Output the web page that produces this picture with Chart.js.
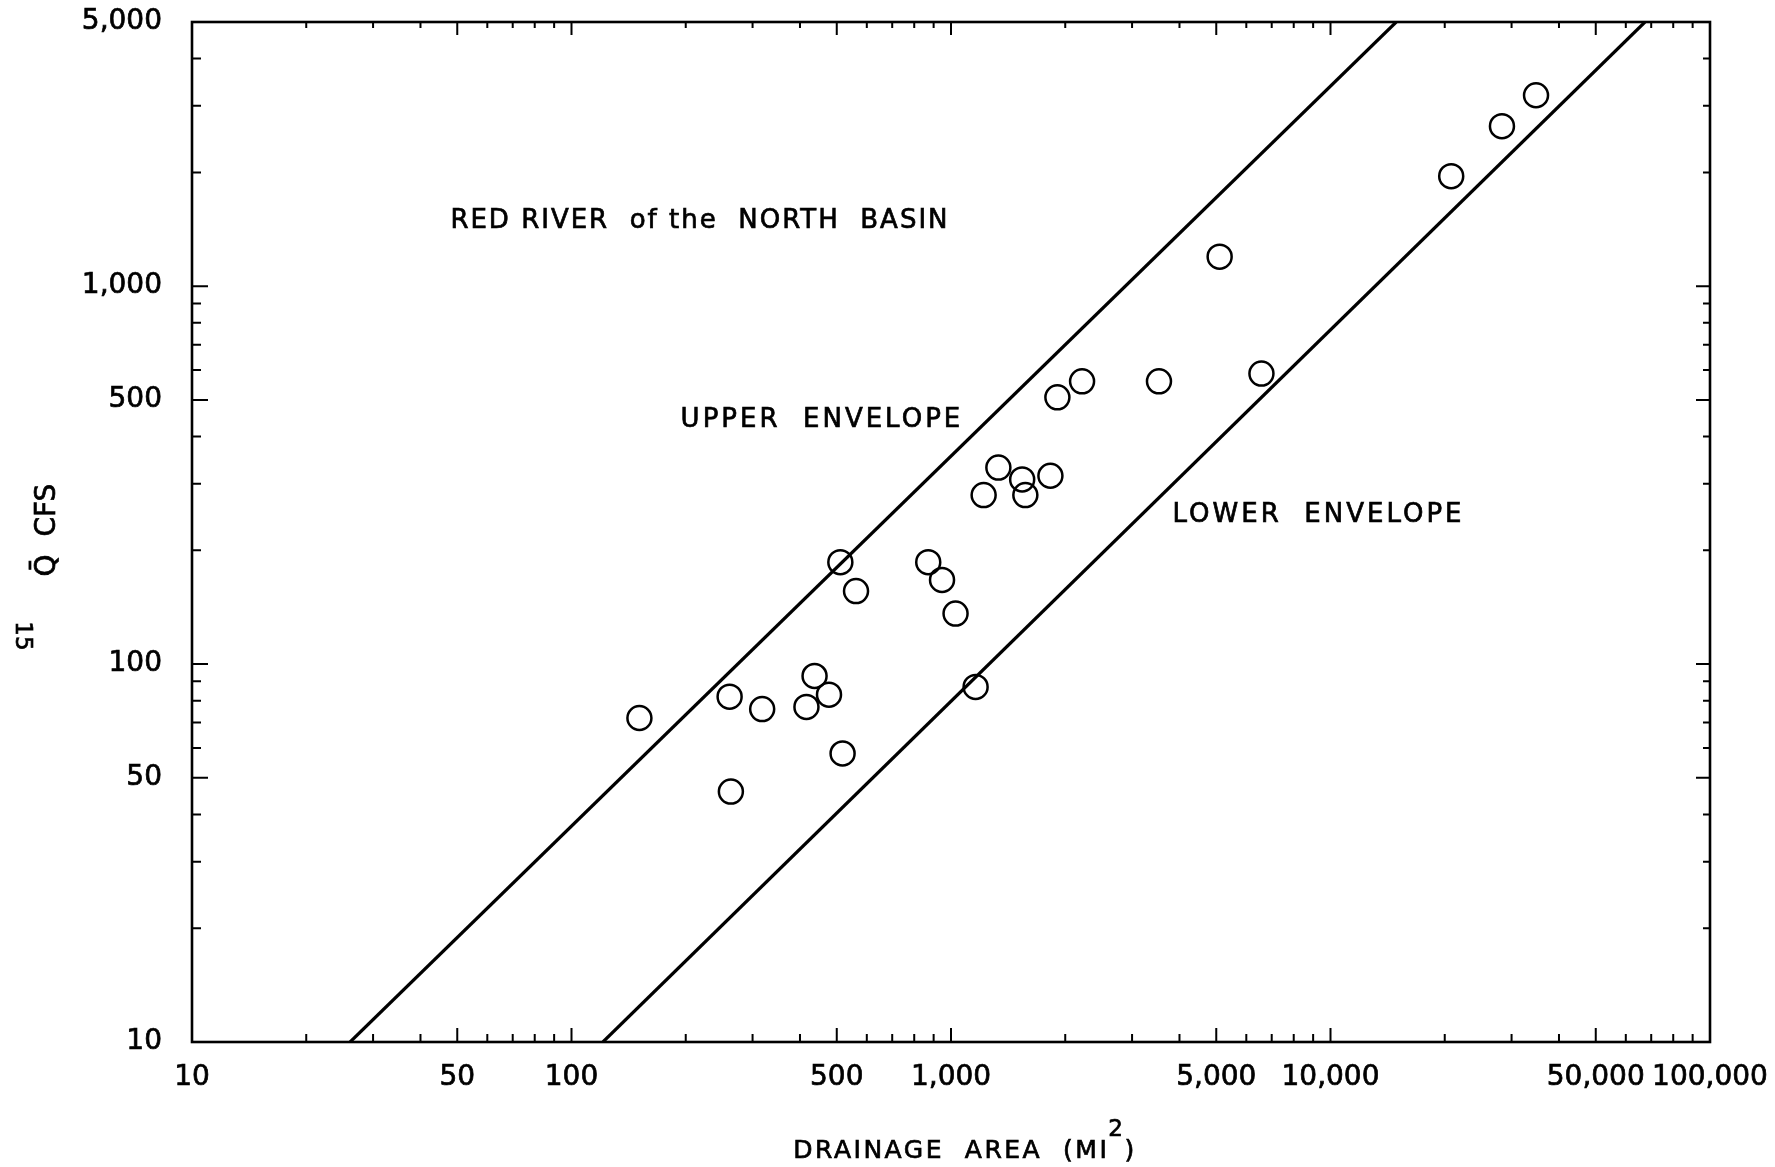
<!DOCTYPE html>
<html>
<head>
<meta charset="utf-8">
<script src="https://cdn.jsdelivr.net/npm/chart.js@4.4.1/dist/chart.umd.min.js"></script>
<style>
html,body{margin:0;padding:0;background:#fff;}
#wrap{width:1775px;height:1167px;}
</style>
</head>
<body>
<div id="wrap"><canvas id="grafica" width="1775" height="1167"></canvas></div>
<script>
// gaging stations, drainage area (mi2) and mean flow (cfs)
const AREAS = [151, 261, 263, 318, 416, 437, 477, 518, 511, 562, 871, 947, 1028, 1161,
               1219, 1333, 1540, 1570, 1828, 1907, 2215, 3532, 5104, 6577, 20800, 28300, 34800];
const FLOWS = [72, 82, 46, 76, 77, 93, 83, 58, 186, 156, 186, 167, 136, 87,
               280, 331, 308, 280, 315, 508, 560, 560, 1197, 587, 1955, 2650, 3200];

// envelope lines (end points on the frame)
const UPPER_X = [26.1, 14900];
const UPPER_Y = [10, 5000];
const LOWER_X = [121, 67400];
const LOWER_Y = [10, 5000];

// axis ticks
const X_LABELS = [10, 50, 100, 500, 1000, 5000, 10000, 50000, 100000];
const Y_LABELS = [10, 50, 100, 500, 1000, 5000];
const X_TICKS = [10, 20, 30, 40, 50, 60, 70, 80, 90,
                 100, 200, 300, 400, 500, 600, 700, 800, 900,
                 1000, 2000, 3000, 4000, 5000, 6000, 7000, 8000, 9000,
                 10000, 20000, 30000, 40000, 50000, 60000, 70000, 80000, 90000, 100000];
const Y_TICKS = [10, 20, 30, 40, 50, 60, 70, 80, 90,
                 100, 200, 300, 400, 500, 600, 700, 800, 900,
                 1000, 2000, 3000, 4000, 5000];

const FONT = "'DejaVu Sans', sans-serif";

// text placed on the plot, in data units
const notas = [
    {txt: "RED RIVER  of the  NORTH  BASIN", x: 218, y: 1483, sp: 2},
    {txt: "UPPER  ENVELOPE", x: 457, y: 443, sp: 3},
    {txt: "LOWER  ENVELOPE", x: 9300, y: 248, sp: 3}
];

function pares(xs, ys){
    return xs.map((v, i) => ({x: v, y: ys[i]}));
}

// fill + thin stroke so the lettering is as heavy as the scan
function letra(ctx, txt, x, y){
    ctx.fillText(txt, x, y);
    ctx.strokeText(txt, x, y);
}

const marco = {
    id: "marco",
    afterDatasetsDraw(chart){
        const ctx = chart.ctx;
        const a = chart.chartArea;
        const sx = chart.scales.x, sy = chart.scales.y;
        ctx.save();
        ctx.strokeStyle = "#000";
        ctx.lineWidth = 2.6;
        ctx.strokeRect(a.left, a.top, a.right - a.left, a.bottom - a.top);
        ctx.lineWidth = 2;
        ctx.beginPath();
        X_TICKS.forEach(v => {
            const p = sx.getPixelForValue(v);
            const big = X_LABELS.includes(v);
            ctx.moveTo(p, a.bottom); ctx.lineTo(p, a.bottom - (big ? 14 : 8));
            ctx.moveTo(p, a.top); ctx.lineTo(p, a.top + (big ? 13 : 6));
        });
        Y_TICKS.forEach(v => {
            const p = sy.getPixelForValue(v);
            const big = Y_LABELS.includes(v);
            ctx.moveTo(a.left, p); ctx.lineTo(a.left + (big ? 16 : 9), p);
            ctx.moveTo(a.right, p); ctx.lineTo(a.right - (big ? 14 : 7), p);
        });
        ctx.stroke();
        ctx.restore();
    },
    afterDraw(chart){
        const ctx = chart.ctx;
        const sx = chart.scales.x, sy = chart.scales.y;
        ctx.save();
        ctx.fillStyle = "#000";
        ctx.strokeStyle = "#000";
        ctx.lineWidth = 0.7;
        ctx.textAlign = "center";
        ctx.textBaseline = "middle";
        ctx.font = "26px " + FONT;
        notas.forEach(n => {
            ctx.letterSpacing = n.sp + "px";
            letra(ctx, n.txt, sx.getPixelForValue(n.x), sy.getPixelForValue(n.y));
        });

        // x axis title with raised 2
        ctx.textAlign = "left";
        ctx.letterSpacing = "2.5px";
        ctx.font = "25px " + FONT;
        const t1 = "DRAINAGE  AREA  (MI";
        const w1 = ctx.measureText(t1).width;
        ctx.font = "23px " + FONT;
        const w2 = ctx.measureText("2").width;
        ctx.font = "25px " + FONT;
        const w3 = ctx.measureText(")").width;
        const x0 = 966 - (w1 + w2 + w3) / 2;
        letra(ctx, t1, x0, 1151);
        ctx.font = "23px " + FONT;
        letra(ctx, "2", x0 + w1 - 1, 1130);
        ctx.font = "25px " + FONT;
        letra(ctx, ")", x0 + w1 + w2 - 2, 1151);
        ctx.letterSpacing = "0px";

        // y axis title
        ctx.textAlign = "center";
        ctx.save();
        ctx.translate(48, 530);
        ctx.rotate(-Math.PI / 2);
        ctx.font = "28px " + FONT;
        letra(ctx, "Q\u0304  CFS", 0, 0);
        ctx.restore();

        // page number on the margin
        ctx.save();
        ctx.translate(22, 636);
        ctx.rotate(Math.PI / 2);
        ctx.font = "23px " + FONT;
        letra(ctx, "15", 0, 0);
        ctx.restore();
        ctx.restore();
    }
};

window.onload = () => {
    const ctx = document.getElementById("grafica").getContext("2d");
    const linea = {
        type: "line", showLine: true, fill: false, tension: 0,
        borderColor: "#000", borderWidth: 3.2, pointRadius: 0
    };
    const letraEje = {family: FONT, size: 28};
    // invisible tick marks only push the labels away from the frame
    const rejilla = (len) => ({
        display: true, drawOnChartArea: false, drawTicks: true,
        tickLength: len, color: "rgba(0,0,0,0)"
    });
    new Chart(ctx, {
        type: "scatter",
        data: {
            datasets: [
                {
                    label: "Stations",
                    data: pares(AREAS, FLOWS),
                    pointRadius: 12,
                    pointBorderWidth: 2.5,
                    borderColor: "#000",
                    backgroundColor: "rgba(0,0,0,0)"
                },
                Object.assign({label: "Upper envelope", data: pares(UPPER_X, UPPER_Y)}, linea),
                Object.assign({label: "Lower envelope", data: pares(LOWER_X, LOWER_Y)}, linea)
            ]
        },
        options: {
            responsive: false,
            animation: false,
            layout: {padding: {left: 0, right: 65, top: 22, bottom: 0}},
            plugins: {legend: {display: false}, tooltip: {enabled: false}},
            scales: {
                x: {
                    type: "logarithmic",
                    position: "bottom",
                    min: 10, max: 100000,
                    grid: rejilla(19),
                    border: {display: false},
                    afterBuildTicks: s => { s.ticks = X_TICKS.map(v => ({value: v})); },
                    afterFit: s => { s.height = 125; },
                    ticks: {
                        autoSkip: false, maxRotation: 0, padding: 0,
                        color: "#000", font: letraEje,
                        textStrokeColor: "#000", textStrokeWidth: 0.7,
                        callback: v => X_LABELS.includes(v) ? v.toLocaleString("en-US") : ""
                    }
                },
                y: {
                    type: "logarithmic",
                    position: "left",
                    min: 10, max: 5000,
                    grid: rejilla(30),
                    border: {display: false},
                    afterBuildTicks: s => { s.ticks = Y_TICKS.map(v => ({value: v})); },
                    afterFit: s => { s.width = 192; },
                    ticks: {
                        autoSkip: false, padding: 0,
                        color: "#000", font: letraEje,
                        textStrokeColor: "#000", textStrokeWidth: 0.7,
                        callback: v => Y_LABELS.includes(v) ? v.toLocaleString("en-US") : ""
                    }
                }
            }
        },
        plugins: [marco]
    });
};
</script>
</body>
</html>
